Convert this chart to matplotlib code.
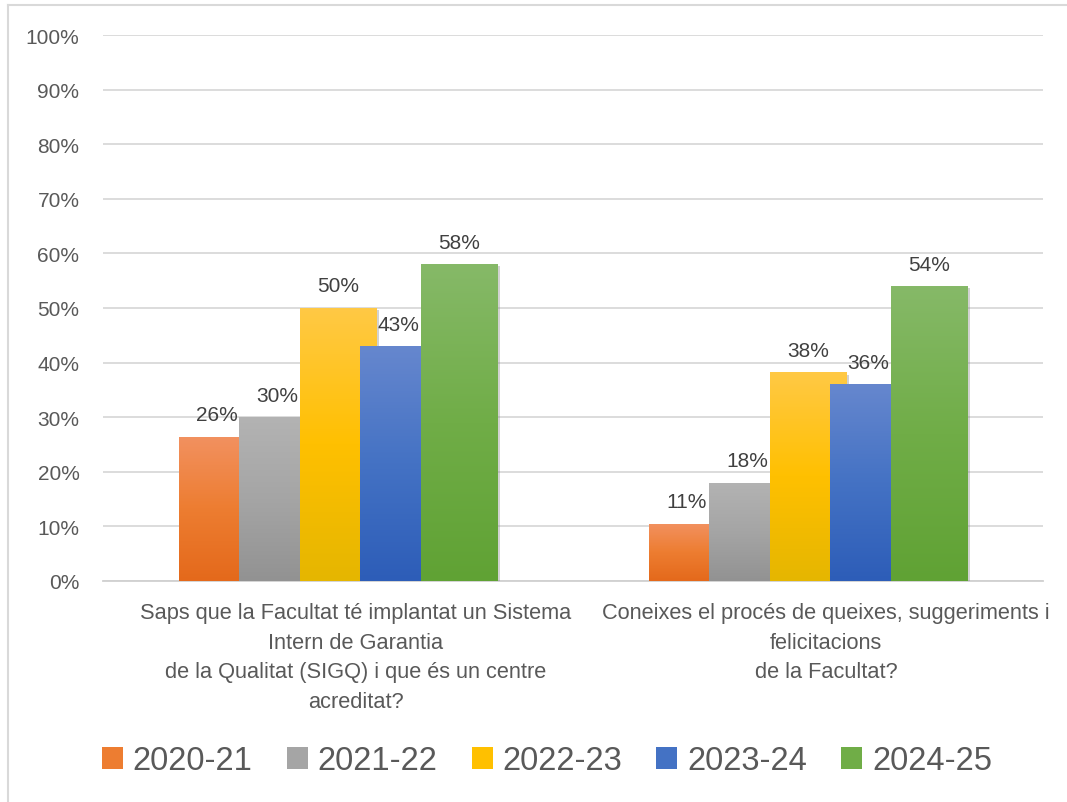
import numpy as np
import matplotlib
matplotlib.use("Agg")
from matplotlib import pyplot as plt
from matplotlib.colors import LinearSegmentedColormap
from matplotlib.patches import Patch
from matplotlib.lines import Line2D
import matplotlib.patheffects as pe

plt.rcParams['font.family'] = ['Liberation Sans', 'DejaVu Sans']

# dades
preguntes = [
    "Saps que la Facultat té implantat un Sistema\nIntern de Garantia\nde la Qualitat (SIGQ) i que és un centre\nacreditat?",
    "Coneixes el procés de queixes, suggeriments i\nfelicitacions\nde la Facultat?",
]
cursos = ["2020-21", "2021-22", "2022-23", "2023-24", "2024-25"]
v_2020 = [26.4, 10.5]
v_2021 = [30.0, 18.0]
v_2022 = [50.0, 38.2]
v_2023 = [43.0, 36.0]
v_2024 = [58.0, 54.0]
etiquetes = [["26%", "11%"], ["30%", "18%"], ["50%", "38%"], ["43%", "36%"], ["58%", "54%"]]
series = [v_2020, v_2021, v_2022, v_2023, v_2024]

# colors (clar, base, fosc)
colors = [
    ("#F29160", "#ED7D31", "#E4691B"),
    ("#B3B3B3", "#A5A5A5", "#929292"),
    ("#FFC945", "#FFC000", "#E5B600"),
    ("#6687CE", "#4472C4", "#2D5DB8"),
    ("#86B968", "#70AD47", "#60A234"),
]
text_col = "#595959"

fig = plt.figure(figsize=(10.67, 8.03), dpi=100)
ax = fig.add_axes([103 / 1067, 1 - 582 / 803, 940 / 1067, 546 / 803])

# marc exterior
fig.add_artist(Line2D([7.5 / 1067, 7.5 / 1067], [0, 1 - 5.5 / 803], transform=fig.transFigure,
                      color="#D9D9D9", lw=1.5))
fig.add_artist(Line2D([7.5 / 1067, 1], [1 - 5.5 / 803, 1 - 5.5 / 803], transform=fig.transFigure,
                      color="#D9D9D9", lw=1.5))

x = np.arange(len(preguntes))
w = 77 / 470
step = 60.5 / 470

grad = np.linspace(0, 1, 256).reshape(-1, 1)
for i, vals in enumerate(series):
    cmap = LinearSegmentedColormap.from_list("g%d" % i, list(colors[i]))
    pos = x + (i - 2) * step
    bars = ax.bar(pos, vals, width=w, color=colors[i][1], zorder=3 + i, linewidth=0)
    for b, lab in zip(bars, etiquetes[i]):
        b.set_path_effects([pe.SimplePatchShadow(offset=(1.5, -1.5), shadow_rgbFace="#808080", alpha=0.35),
                            pe.Normal()])
        x0, h = b.get_x(), b.get_height()
        im = ax.imshow(grad, cmap=cmap, extent=[x0, x0 + w, 0, h], origin="upper",
                       aspect="auto", zorder=3 + i, interpolation="bilinear")
        im.set_clip_path(b)
        ax.annotate(lab, (x0 + w / 2, h), xytext=(0, 9), textcoords="offset points",
                    ha="center", va="bottom", fontsize=15, color="#404040", zorder=10)

ax.set_xlim(-0.5, 1.5)
ax.set_ylim(0, 100)
ax.set_yticks(np.arange(0, 101, 10))
ax.set_yticklabels(["%d%%" % t for t in range(0, 101, 10)], fontsize=15, color=text_col)
ax.set_xticks(x + 18 / 470)
ax.set_xticklabels(preguntes, fontsize=15.7, color=text_col, linespacing=1.55)
ax.tick_params(axis="both", length=0)
ax.tick_params(axis="y", pad=17)
ax.tick_params(axis="x", pad=15)
ax.grid(axis="y", color="#D9D9D9", lw=1.3, zorder=0)
ax.set_axisbelow(True)
for s in ["top", "right", "left"]:
    ax.spines[s].set_visible(False)
ax.spines["bottom"].set_color("#D0D0D0")
ax.spines["bottom"].set_linewidth(1.3)

handles = [Patch(facecolor=c[1], edgecolor="none") for c in colors]
fig.legend(handles, cursos, loc="center", bbox_to_anchor=(547 / 1067, 1 - 762 / 803), ncol=5,
           frameon=False, fontsize=23.5, labelcolor=text_col, handlelength=0.64, handleheight=0.64,
           handletextpad=0.3, columnspacing=1.05)

plt.savefig("out.png", dpi=100)
